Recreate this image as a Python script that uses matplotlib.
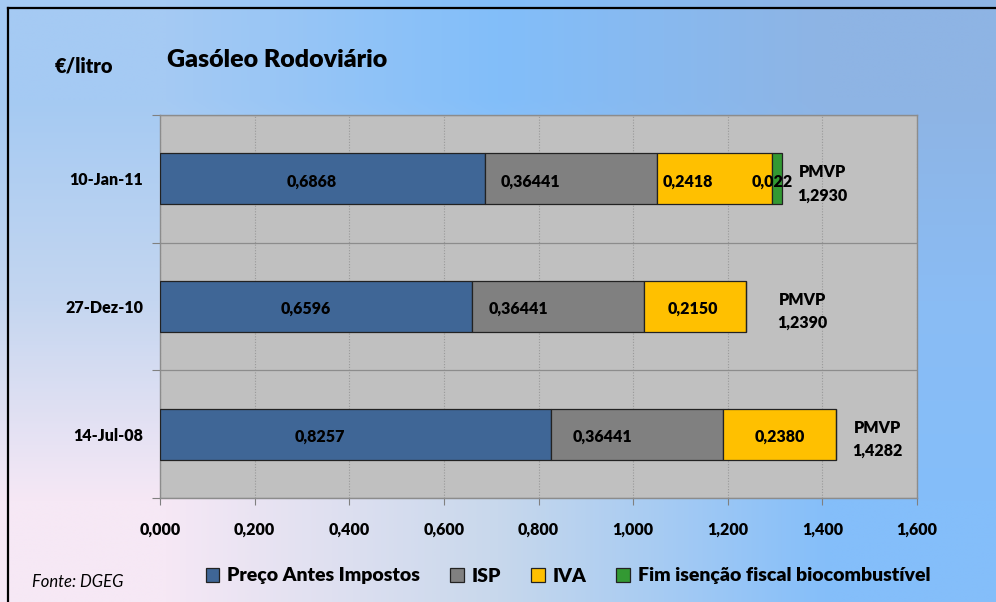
import numpy as np
import matplotlib
matplotlib.use("Agg")
import matplotlib.pyplot as plt
from matplotlib.lines import Line2D
from matplotlib.patches import Patch

# dados (€/litro)
datas = ["10-Jan-11", "27-Dez-10", "14-Jul-08"]
preco_antes = [0.6868, 0.6596, 0.8257]
isp = [0.36441, 0.36441, 0.36441]
iva = [0.2418, 0.2150, 0.2380]
biocomb = [0.022, 0.0, 0.0]
pmvp = [1.2930, 1.2390, 1.4282]

series = [
    ("Preço Antes Impostos", preco_antes, "#3F6696", 4),
    ("ISP", isp, "#808080", 5),
    ("IVA", iva, "#FFC000", 4),
    ("Fim isenção fiscal biocombustível", biocomb, "#339933", 3),
]

# ajustes manuais das etiquetas (unidades do eixo x)
nudge = [
    [-0.022, -0.022, -0.075],
    [-0.087, -0.085, -0.073],
    [-0.056, -0.005, 0.0],
    [-0.010, 0.0, 0.0],
]
pmvp_x_off = [0.085, 0.118, 0.088]

FONT = "Lato"
W = "heavy"
plt.rcParams['font.family'] = [FONT, 'DejaVu Sans']


def fmt(v, d):
    return f"{v:.{d}f}".replace(".", ",")


fig = plt.figure(figsize=(9.96, 6.02), dpi=100)

# fundo em gradiente
bg = fig.add_axes([0, 0, 1, 1], zorder=-10)
cores = np.array([
    [[165, 202, 243], [130, 190, 250], [142, 180, 228]],
    [[196, 214, 240], [170, 202, 240], [138, 188, 244]],
    [[246, 232, 245], [200, 216, 236], [132, 190, 250]],
]) / 255.0
bg.imshow(cores, extent=[0, 1, 0, 1], aspect="auto", interpolation="bilinear")
bg.set_axis_off()

# moldura (topo e esquerda)
fig.add_artist(Line2D([8 / 996, 1], [1 - 8 / 602, 1 - 8 / 602], color="black", lw=1.6,
                      transform=fig.transFigure))
fig.add_artist(Line2D([8 / 996, 8 / 996], [0, 1 - 8 / 602], color="black", lw=1.6,
                      transform=fig.transFigure))

ax = fig.add_axes([160 / 996, 1 - 498 / 602, 757 / 996, 383 / 602])
ax.set_facecolor("#C0C0C0")

y = np.arange(len(datas))[::-1]
left = np.zeros(len(datas))
for (nome, vals, cor, dec), nd in zip(series, nudge):
    vals = np.array(vals)
    ax.barh(y, vals, left=left, height=0.4, color=cor, edgecolor="#222222",
            linewidth=0.9, label=nome, zorder=3)
    for i in range(len(datas)):
        if vals[i] > 0:
            ax.text(left[i] + vals[i] / 2 + nd[i], y[i] - 0.02, fmt(vals[i], dec),
                    ha="center", va="center", fontsize=11.5, fontweight=W,
                    color="black", zorder=4)
    left = left + vals

for i in range(len(datas)):
    ax.text(left[i] + pmvp_x_off[i], y[i] - 0.04, "PMVP\n" + fmt(pmvp[i], 4),
            ha="center", va="center", fontsize=11.5, fontweight=W,
            linespacing=1.55, zorder=4)

ax.set_xlim(0, 1.6)
ax.set_ylim(-0.5, 2.5)
ax.set_xticks(np.arange(0, 1.61, 0.2))
ax.set_xticklabels([fmt(v, 3) for v in np.arange(0, 1.61, 0.2)],
                   fontsize=11.5, fontweight=W)
ax.set_yticks([-0.5, 0.5, 1.5, 2.5])
ax.set_yticklabels([])
ax.set_yticks(y, minor=True)
ax.set_yticklabels(datas, minor=True, fontsize=11.5, fontweight=W)
ax.tick_params(axis="y", which="minor", length=0, pad=12)
ax.tick_params(axis="y", which="major", length=6, color="#808080")
ax.tick_params(axis="x", length=5, color="#808080", pad=12)
ax.grid(axis="x", color="#999999", linestyle=(0, (1, 1.5)), linewidth=0.8, zorder=0)
ax.grid(axis="y", which="major", color="#8C8C8C", linewidth=0.9, zorder=0)
ax.set_axisbelow(True)
for s in ax.spines.values():
    s.set_color("#8C8C8C")
    s.set_linewidth(1.0)

fig.text(55 / 996, 1 - 66 / 602, "€/litro", fontsize=14.5, fontweight=W,
         va="center", ha="left")
fig.text(167 / 996, 1 - 60 / 602, "Gasóleo Rodoviário", fontsize=18,
         fontweight=W, va="center", ha="left")
fig.text(32 / 996, 1 - 582 / 602, "Fonte: DGEG", fontsize=12, style="italic",
         va="center", ha="left")

handles = [Patch(facecolor=c, edgecolor="#222222", linewidth=0.9) for _, _, c, _ in series]
leg = fig.legend(handles, [n for n, _, _, _ in series], loc="center",
                 bbox_to_anchor=(568 / 996, 1 - 576 / 602), ncol=4, frameon=False,
                 prop={"size": 14, "weight": W}, handlelength=0.7,
                 handleheight=0.7, handletextpad=0.4, columnspacing=1.55)

fig.savefig("out.png", dpi=100)
